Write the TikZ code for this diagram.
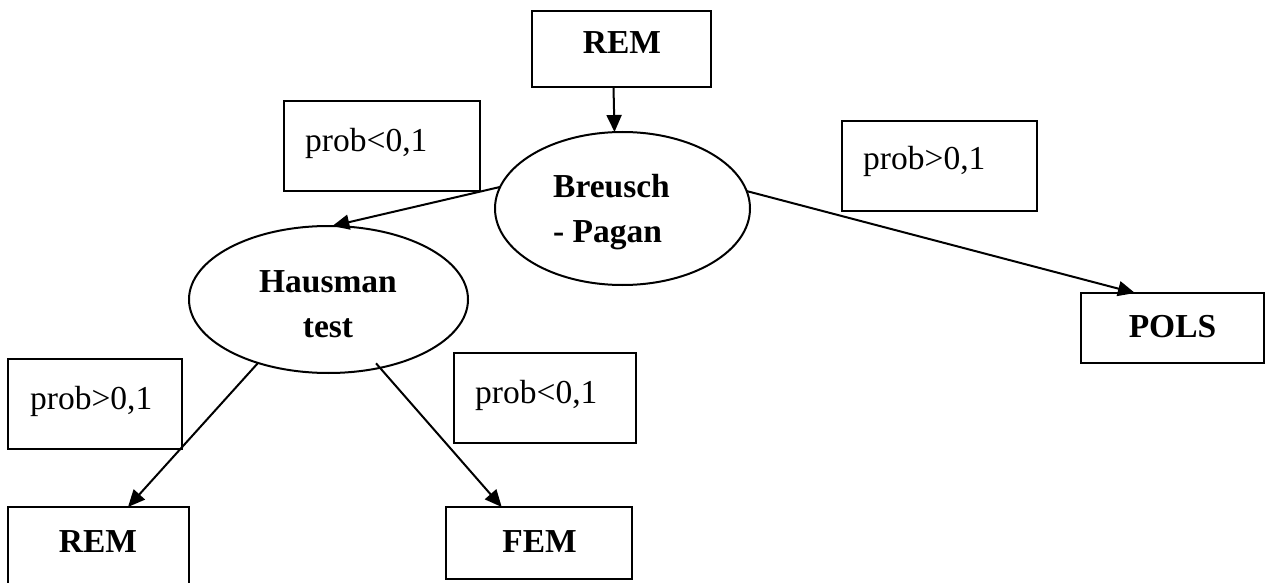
\documentclass[tikz,border=0pt]{standalone}
\usepackage{fontspec}
\setmainfont{Liberation Serif}
\usetikzlibrary{arrows.meta,shapes.geometric}
\tikzset{
  boxnode/.style={draw, line width=2pt, rectangle, inner sep=0pt, outer sep=0pt},
  ellnode/.style={draw, line width=2pt, ellipse, inner sep=0pt, outer sep=0pt},
  boldtxt/.style={inner sep=0pt, anchor=base, font=\fontsize{33.5}{40}\selectfont\bfseries},
  plaintxt/.style={inner sep=0pt, anchor=base west, font=\fontsize{33.5}{40}\selectfont},
  arr/.style={line width=2pt, -{Triangle[length=17pt,width=15pt]}}
}
\begin{document}
\begin{tikzpicture}[x=1pt,y=-1pt]
\useasboundingbox (0,0) rectangle (1270,583);
% boxes
\node[boxnode, minimum width=179pt, minimum height=76pt] (rem1) at (621.5,49) {};
\node[boxnode, minimum width=196pt, minimum height=90pt] (pl1) at (382,146) {};
\node[boxnode, minimum width=195pt, minimum height=90pt] (pr1) at (939.5,166) {};
\node[boxnode, minimum width=183pt, minimum height=70pt] (pols) at (1172.5,328) {};
\node[boxnode, minimum width=174pt, minimum height=90pt] (pr2) at (95,404) {};
\node[boxnode, minimum width=182pt, minimum height=90pt] (pl2) at (545,398) {};
\node[boxnode, minimum width=181pt, minimum height=90pt] (rem2) at (98.5,552) {};
\node[boxnode, minimum width=186pt, minimum height=72pt] (fem) at (539,543) {};
% ellipses
\node[ellnode, minimum width=255pt, minimum height=153pt] (bp) at (622.5,208.5) {};
\node[ellnode, minimum width=279pt, minimum height=147pt] (hm) at (328.5,299.5) {};
% texts
\node[boldtxt] (trem1) at (622,54) {REM};
\node[boldtxt] (tpols) at (1172.5,337) {POLS};
\node[boldtxt] (trem2) at (98,552) {REM};
\node[boldtxt] (tfem) at (539.5,552) {FEM};
\node[boldtxt, anchor=base west] (tbp1) at (553,198) {Breusch};
\node[boldtxt, anchor=base west] (tbp2) at (553,243) {- Pagan};
\node[boldtxt] (thm1) at (328,292.5) {Hausman};
\node[boldtxt] (thm2) at (328,337) {test};
\node[plaintxt] (tpl1) at (305,152) {prob<0,1};
\node[plaintxt] (tpr1) at (863,170) {prob>0,1};
\node[plaintxt] (tpr2) at (30,409) {prob>0,1};
\node[plaintxt] (tpl2) at (475,403) {prob<0,1};
% connectors
\draw[arr] ([xshift=-8pt]rem1.south) -- ([xshift=-8pt]bp.north);
\draw[arr] (bp.170) -- (hm.87);
\draw[arr] (bp.8) -- (pols.137);
\draw[arr] (hm.222) -- ([xshift=29.5pt]rem2.north);
\draw[arr, shorten <=-6pt] (hm.307) -- (fem.136);
\end{tikzpicture}
\end{document}
